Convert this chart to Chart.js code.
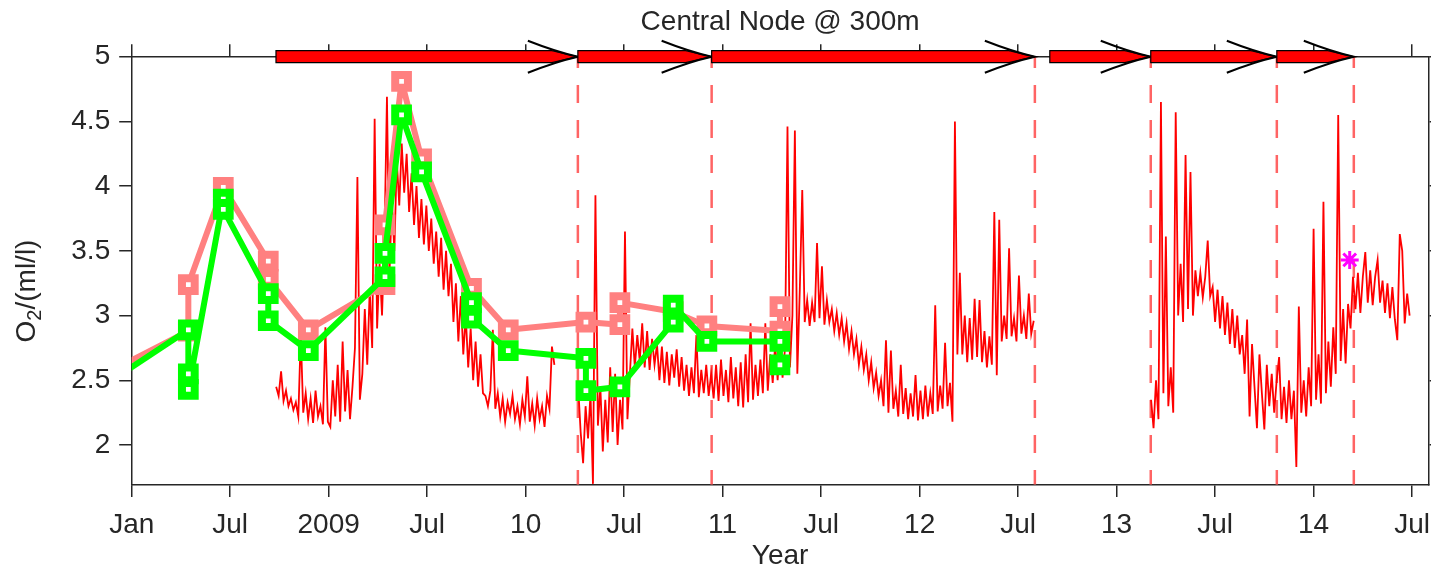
<!DOCTYPE html>
<html>
<head>
<meta charset="utf-8">
<script src="https://cdn.jsdelivr.net/npm/chart.js@4.4.0/dist/chart.umd.min.js"></script>
<style>
  body { margin: 0; background: #fff; }
  canvas { display: block; }
</style>
</head>
<body>
<canvas id="o2Chart" width="1431" height="569"></canvas>
<script>
// x values are months since Jan 2008
const xTickMonths = [0, 6, 12, 18, 24, 30, 36, 42, 48, 54, 60, 66, 72, 78];
const xTickLabels = ["Jan", "Jul", "2009", "Jul", "10", "Jul", "11", "Jul", "12", "Jul", "13", "Jul", "14", "Jul"];
const yTickValues = [2, 2.5, 3, 3.5, 4, 4.5, 5];
const yTickLabels = ["2", "2.5", "3", "3.5", "4", "4.5", "5"];

// mooring deployments (arrows on top, dashed line at each recovery)
const deployStart = [8.79, 27.18, 35.33, 55.93, 62.08, 69.76];
const deployEnd = [27.18, 35.33, 55.02, 62.08, 69.76, 74.45];

// moored O2 sensor, one value every sensorStep months from each start
const sensorStep = 0.15;
const sensorStarts = [8.8, 27.2, 62.1];
const sensor2008 = [
  2.45, 2.38, 2.57, 2.34, 2.42, 2.30, 2.36, 2.27, 2.33, 2.22,
  2.85, 2.25, 2.40, 2.20, 2.36, 2.17, 2.42, 2.22, 2.30, 2.16,
  2.91, 2.18, 2.14, 2.50, 2.22, 2.62, 2.18, 2.80, 2.26, 2.58,
  2.20, 2.45, 2.75, 4.07, 2.35, 2.55, 3.05, 2.62, 3.20, 2.75,
  4.52, 2.90, 3.40, 3.00, 3.60, 4.69, 3.30, 3.90, 3.50, 4.20,
  3.85, 4.33, 3.95, 4.25, 3.80, 4.10, 3.70, 4.00, 3.60, 3.90,
  3.55, 3.85, 3.50, 3.75, 3.40, 3.65, 3.30, 3.60, 3.20, 3.50,
  3.15, 3.40, 2.95, 3.25, 2.80, 3.15, 2.70, 3.00, 2.60, 2.90,
  2.50, 2.80, 2.45, 2.70, 2.40, 2.38, 2.30, 2.42, 2.89, 2.28,
  2.40, 2.22, 2.36, 2.18, 2.33, 2.24, 2.38, 2.20, 2.30, 2.16,
  2.35, 2.22, 2.53, 2.18, 2.32, 2.15, 2.36, 2.20, 2.30, 2.14,
  2.38, 2.28, 2.76, 2.62
];
const sensor2010 = [
  2.45, 2.10, 1.86, 2.30, 2.05, 2.40, 1.70, 3.93, 2.15, 2.45,
  1.95, 2.35, 2.02, 2.60, 2.10, 2.55, 2.00, 2.35, 2.12, 3.65,
  2.20, 2.55, 2.90, 2.60, 2.85, 2.65, 2.94, 2.60, 2.88, 2.58,
  2.82, 2.62, 2.78, 2.50, 2.76, 2.48, 2.72, 2.46, 2.70, 2.52,
  2.74, 2.45, 2.68, 2.42, 2.62, 2.38, 2.60, 2.40, 2.85, 2.37,
  2.58, 2.40, 2.62, 2.38, 2.55, 2.36, 2.62, 2.34, 2.66, 2.38,
  2.58, 2.33, 2.68, 2.36, 2.60, 2.30, 2.64, 2.29, 2.70, 2.33,
  2.94, 2.35, 2.62, 2.38, 2.66, 2.40, 2.94, 2.42, 2.70, 2.48,
  2.78, 2.50, 2.80, 2.52, 2.75, 4.46, 2.60, 3.00, 4.43, 2.55,
  3.20, 3.97, 2.95, 3.12, 2.92, 3.10, 2.95, 3.56, 2.98, 3.38,
  2.93, 3.12, 2.95, 3.05, 2.88, 3.02, 2.85, 2.98, 2.80, 2.94,
  2.74, 2.88, 2.70, 2.82, 2.62, 2.76, 2.58, 2.70, 2.50, 2.64,
  2.44, 2.56, 2.38, 2.50, 2.30, 2.81, 2.25, 2.73, 2.28, 2.42,
  2.22, 2.62, 2.24, 2.44, 2.20, 2.40, 2.22, 2.54, 2.19, 2.42,
  2.20, 2.46, 2.22, 2.40, 2.24, 3.08, 2.26, 2.46, 2.28, 2.79,
  2.30, 2.48, 2.18, 4.50, 2.70, 3.33, 2.70, 3.00, 2.64, 2.98,
  2.66, 3.13, 2.68, 3.12, 2.64, 2.88, 2.60, 2.84, 2.62, 3.80,
  2.54, 3.74, 2.80, 3.00, 2.82, 3.52, 2.84, 2.98, 2.80, 3.31,
  2.86, 3.00, 2.82, 3.17, 2.86, 2.96
];
const sensor2013 = [
  2.35, 2.13, 2.50, 2.20, 4.65, 2.40, 3.61, 2.30, 2.60, 2.25,
  4.57, 3.00, 3.40, 2.95, 4.24, 3.05, 4.11, 3.00, 3.35, 3.15,
  3.33, 3.14, 3.30, 3.58, 3.15, 3.22, 2.95, 3.20, 2.90, 3.15,
  2.85, 3.10, 2.78, 3.05, 2.75, 3.00, 2.70, 2.85, 2.55, 2.97,
  2.22, 2.78, 2.45, 2.13, 2.70, 2.40, 2.12, 2.62, 2.30, 2.55,
  2.25, 2.50, 2.68, 2.20, 2.45, 2.17, 2.50, 2.20, 2.42, 1.83,
  3.07, 2.25, 2.50, 2.22, 2.60, 2.30, 3.67, 2.35, 2.70, 2.32,
  3.88, 2.40, 2.80, 2.45, 2.91, 2.55, 4.55, 2.65, 3.05, 2.63,
  3.09, 2.90, 3.30, 3.05, 3.33, 3.02, 3.30, 3.49, 3.10, 3.35,
  3.08, 3.30, 3.43, 3.10, 3.27, 3.02, 3.25, 2.98, 3.22, 2.97,
  2.81, 3.63, 3.50, 2.94, 3.17, 3.00
];

// bottle samples (first point lies before the axis start)
const pinkMonths = [-3, 3.45, 3.45, 5.58, 8.32, 8.32, 10.76, 15.43, 15.43, 16.44, 17.66, 20.7, 22.94, 27.67, 29.74, 29.74, 32.99, 35.04, 39.49, 39.49];
const pinkO2 = [2.46, 2.88, 3.24, 3.99, 3.42, 3.28, 2.89, 3.24, 3.70, 4.81, 4.21, 3.21, 2.89, 2.95, 2.93, 3.10, 3.03, 2.92, 2.88, 3.07];
const greenMonths = [-3, 3.45, 3.45, 3.45, 5.58, 5.58, 8.32, 8.32, 10.76, 15.43, 15.43, 16.44, 17.66, 20.7, 20.7, 22.94, 27.67, 27.67, 29.74, 32.99, 32.99, 35.04, 39.49, 39.49];
const greenO2 = [2.35, 2.89, 2.55, 2.43, 3.90, 3.82, 3.17, 2.96, 2.73, 3.30, 3.48, 4.55, 4.11, 3.10, 2.98, 2.73, 2.67, 2.42, 2.45, 2.95, 3.08, 2.80, 2.80, 2.62];
const starMonths = [74.2];
const starO2 = [3.43];

const axisColor = "#262626";
const fontFamily = "'Liberation Sans', Arial, Helvetica, sans-serif";
Chart.defaults.font.family = fontFamily;
Chart.defaults.font.size = 28;
Chart.defaults.color = axisColor;

const sensorPoints = [];
[sensor2008, sensor2010, sensor2013].forEach((seg, k) => {
  seg.forEach((v, i) => sensorPoints.push({ x: sensorStarts[k] + i * sensorStep, y: v }));
  sensorPoints.push({ x: sensorStarts[k] + seg.length * sensorStep, y: null });
});
const toPoints = (xs, ys) => xs.map((m, i) => ({ x: m, y: ys[i] }));

const deploymentPlugin = {
  id: "deployments",
  beforeDatasetsDraw(chart) {
    const { ctx, chartArea, scales: { x } } = chart;
    ctx.save();
    ctx.strokeStyle = "#ff6464";
    ctx.lineWidth = 2.5;
    ctx.setLineDash([18, 17]);
    ctx.lineDashOffset = 6.7;
    deployEnd.forEach((m) => {
      const px = x.getPixelForValue(m);
      ctx.beginPath();
      ctx.moveTo(px, chartArea.top);
      ctx.lineTo(px, chartArea.bottom);
      ctx.stroke();
    });
    ctx.restore();
  },
  afterDraw(chart) {
    const { ctx, scales: { x, y } } = chart;
    const ym = y.getPixelForValue(5);
    ctx.save();
    deployStart.forEach((m0, i) => {
      const xa = x.getPixelForValue(m0);
      const xb = x.getPixelForValue(deployEnd[i]);
      // bar with pointed tip
      ctx.fillStyle = "#ff0000";
      ctx.strokeStyle = "#000";
      ctx.lineWidth = 1.2;
      ctx.beginPath();
      ctx.moveTo(xa, ym - 6);
      ctx.lineTo(xb - 26, ym - 6);
      ctx.lineTo(xb, ym);
      ctx.lineTo(xb - 26, ym + 6);
      ctx.lineTo(xa, ym + 6);
      ctx.closePath();
      ctx.fill();
      ctx.stroke();
      // arrow head wings
      ctx.lineWidth = 2;
      ctx.beginPath();
      ctx.moveTo(xb - 50, ym - 16);
      ctx.quadraticCurveTo(xb - 22, ym - 5, xb, ym);
      ctx.quadraticCurveTo(xb - 22, ym + 5, xb - 50, ym + 16);
      ctx.stroke();
    });

    // y label with subscript
    ctx.translate(27, 291);
    ctx.rotate(-Math.PI / 2);
    ctx.fillStyle = axisColor;
    ctx.textBaseline = "middle";
    const big = "28px " + fontFamily;
    const small = "20px " + fontFamily;
    ctx.font = big;
    const wO = ctx.measureText("O").width;
    const wRest = ctx.measureText("/(ml/l)").width;
    ctx.font = small;
    const w2 = ctx.measureText("2").width;
    let start = -(wO + w2 + wRest) / 2;
    ctx.font = big;
    ctx.fillText("O", start, 0);
    ctx.font = small;
    ctx.fillText("2", start + wO, 8);
    ctx.font = big;
    ctx.fillText("/(ml/l)", start + wO + w2, 0);
    ctx.restore();
  },
};

const gridStyle = { drawOnChartArea: false, drawTicks: true, tickLength: 12.5, color: axisColor, lineWidth: 1.5 };
const borderStyle = { display: true, color: axisColor, width: 1.5 };
const setXTicks = (scale) => { scale.ticks = xTickMonths.map((v) => ({ value: v })); };
const setYTicks = (scale) => { scale.ticks = yTickValues.map((v) => ({ value: v })); };
// fixed box sizes, and no extra room for labels hanging over the ends
const fixHeight = (h) => (s) => { s.height = h; s.paddingLeft = 0; s.paddingRight = 0; };
const fixWidth = (w) => (s) => { s.width = w; s.paddingTop = 0; s.paddingBottom = 0; };

new Chart(document.getElementById("o2Chart"), {
  type: "line",
  data: {
    datasets: [
      {
        label: "star",
        data: toPoints(starMonths, starO2),
        showLine: false,
        pointStyle: "star",
        pointRadius: 9,
        pointBorderWidth: 3,
        pointBorderColor: "#ff00ff",
        borderColor: "#ff00ff",
        clip: 0,
      },
      {
        label: "green",
        data: toPoints(greenMonths, greenO2),
        borderColor: "#00ff00",
        borderWidth: 6,
        borderJoinStyle: "round",
        pointStyle: "rect",
        pointRadius: 9,
        pointBorderWidth: 8,
        pointBorderColor: "#00ff00",
        pointBackgroundColor: "#ffffff",
        clip: 0,
      },
      {
        label: "pink",
        data: toPoints(pinkMonths, pinkO2),
        borderColor: "#ff8080",
        borderWidth: 6,
        borderJoinStyle: "round",
        pointStyle: "rect",
        pointRadius: 9,
        pointBorderWidth: 8,
        pointBorderColor: "#ff8080",
        pointBackgroundColor: "#ffffff",
        clip: 0,
      },
      {
        label: "sensor",
        data: sensorPoints,
        borderColor: "#ff0000",
        borderWidth: 1.8,
        pointRadius: 0,
        spanGaps: false,
        clip: 0,
      },
    ],
  },
  options: {
    responsive: false,
    animation: false,
    layout: { padding: 0, autoPadding: false },
    plugins: { legend: { display: false }, tooltip: { enabled: false } },
    scales: {
      x: {
        type: "linear",
        position: "bottom",
        min: 0,
        max: 79,
        afterBuildTicks: setXTicks,
        afterFit: fixHeight(84.5),
        ticks: { autoSkip: false, maxRotation: 0, padding: 11, callback: (v, i) => xTickLabels[i] },
        grid: gridStyle,
        border: borderStyle,
        title: { display: true, text: "Year", padding: { top: 0, bottom: -4 } },
      },
      x2: {
        type: "linear",
        position: "top",
        min: 0,
        max: 79,
        afterBuildTicks: setXTicks,
        afterFit: fixHeight(56.7),
        ticks: { display: false },
        grid: gridStyle,
        border: borderStyle,
        title: { display: true, text: "Central Node @ 300m", padding: { top: 5, bottom: 0 } },
      },
      y: {
        type: "linear",
        position: "left",
        min: 1.695,
        max: 5,
        afterBuildTicks: setYTicks,
        afterFit: fixWidth(131.7),
        ticks: { padding: 9, callback: (v, i) => yTickLabels[i] },
        grid: gridStyle,
        border: borderStyle,
      },
      y2: {
        type: "linear",
        position: "right",
        min: 1.695,
        max: 5,
        afterBuildTicks: setYTicks,
        afterFit: fixWidth(2.5),
        ticks: { display: false },
        grid: gridStyle,
        border: borderStyle,
      },
    },
  },
  plugins: [deploymentPlugin],
});
</script>
</body>
</html>
